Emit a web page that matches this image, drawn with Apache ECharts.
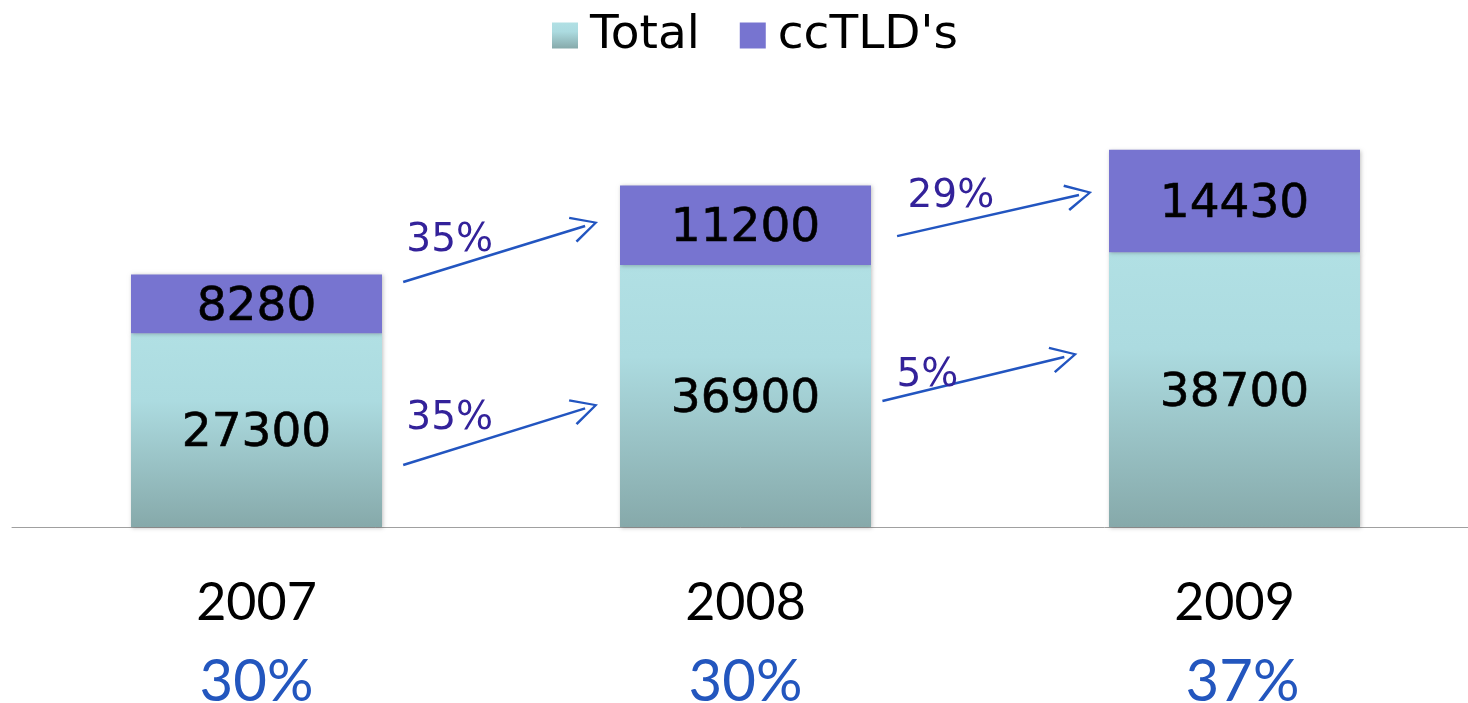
<!DOCTYPE html>
<html>
<head>
<meta charset="utf-8">
<script src="https://cdn.jsdelivr.net/npm/echarts@6/dist/echarts.min.js"></script>
<style>
html, body { margin: 0; padding: 0; background: #fff; }
#main { width: 1468px; height: 703px; }
</style>
</head>
<body>
<div id="main"></div>
<script>
// data
var years = ['2007', '2008', '2009'];
var yearShare = ['30%', '30%', '37%'];
var totalVals = [27300, 36900, 38700];
var ccTldVals = [8280, 11200, 14430];

// growth arrows, in data units: [xFrom, yFrom, xTo, yTo]
var arrowCoords = [
    [0.30, 8730, 0.672, 16700],
    [0.30, 34500, 0.672, 42400],
    [1.28, 17740, 1.652, 23950],
    [1.31, 40970, 1.682, 46750]
];
// growth labels: [x, y, text]
var growthLabels = [
    [0.395, 15200, '35%'],
    [0.395, 40300, '35%'],
    [1.372, 21300, '5%'],
    [1.42, 46500, '29%']
];

var chart = echarts.init(document.getElementById('main'));

var barShadow = {
    shadowBlur: 4,
    shadowColor: 'rgba(0,0,0,0.25)',
    shadowOffsetX: 1,
    shadowOffsetY: 1
};

var barLabel = {
    show: true,
    position: 'inside',
    offset: [0, 4],
    fontFamily: 'DejaVu Sans',
    fontSize: 47,
    color: '#000',
    textBorderColor: '#000',
    textBorderWidth: 0.6
};

chart.setOption({
    animation: false,
    legend: {
        left: 547,
        top: 7,
        itemWidth: 26,
        itemHeight: 26,
        itemGap: 40,
        icon: 'rect',
        textStyle: {
            fontFamily: 'DejaVu Sans',
            fontSize: 47,
            color: '#000',
            padding: [0, 0, 0, 7]
        },
        data: ['Total', "ccTLD's"]
    },
    grid: {
        left: 12,
        width: 1467,
        top: 101,
        bottom: 176,
        outerBoundsMode: 'none',
        containLabel: false
    },
    xAxis: [{
        type: 'category',
        data: years,
        axisTick: { show: false },
        axisLine: { lineStyle: { color: '#a0a0a0', width: 1 } },
        axisLabel: {
            margin: 36,
            formatter: function (v, i) {
                return '{y|' + v + '}\n{' + (i === 2 ? 'q' : 'p') + '|' + yearShare[i] + '}';
            },
            rich: {
                y: { fontFamily: 'Lato', fontSize: 52, color: '#000', lineHeight: 80 },
                p: { fontFamily: 'Lato', fontSize: 58, color: '#2356be', lineHeight: 78 },
                q: { fontFamily: 'Lato', fontSize: 58, color: '#2356be', lineHeight: 78, padding: [0, 0, 0, 16] }
            }
        }
    }, {
        type: 'value',
        min: -0.5,
        max: 2.5,
        show: false
    }],
    yAxis: {
        type: 'value',
        min: 0,
        max: 60000,
        show: false,
        splitLine: { show: false }
    },
    series: [{
        name: 'Total',
        type: 'bar',
        stack: 'all',
        barWidth: 251,
        data: totalVals,
        itemStyle: Object.assign({
            color: new echarts.graphic.LinearGradient(0, 0, 0, 1, [
                { offset: 0, color: '#b1e0e4' },
                { offset: 0.35, color: '#acdbe0' },
                { offset: 1, color: '#86a9aa' }
            ])
        }, barShadow),
        label: barLabel
    }, {
        name: "ccTLD's",
        type: 'bar',
        stack: 'all',
        barWidth: 251,
        data: ccTldVals,
        itemStyle: Object.assign({ color: '#7774d0' }, barShadow),
        label: barLabel
    }, {
        type: 'lines',
        coordinateSystem: 'cartesian2d',
        xAxisIndex: 1,
        yAxisIndex: 0,
        symbol: ['none', 'path://M0,10 L5,0 L10,10 L9.2,10.5 L5,1.8 L0.8,10.5 Z'],
        symbolSize: 27,
        lineStyle: { color: '#2255c0', width: 2.5, opacity: 1 },
        data: arrowCoords.map(function (a) {
            return { coords: [[a[0], a[1]], [a[2], a[3]]] };
        }),
        silent: true
    }, {
        type: 'scatter',
        xAxisIndex: 1,
        yAxisIndex: 0,
        symbolSize: 0,
        itemStyle: { opacity: 1 },
        data: growthLabels,
        label: {
            show: true,
            position: 'inside',
            formatter: function (p) { return p.value[2]; },
            fontFamily: 'DejaVu Sans',
            fontSize: 39,
            color: '#33229a',
            opacity: 1
        },
        silent: true
    }]
});
</script>
</body>
</html>
